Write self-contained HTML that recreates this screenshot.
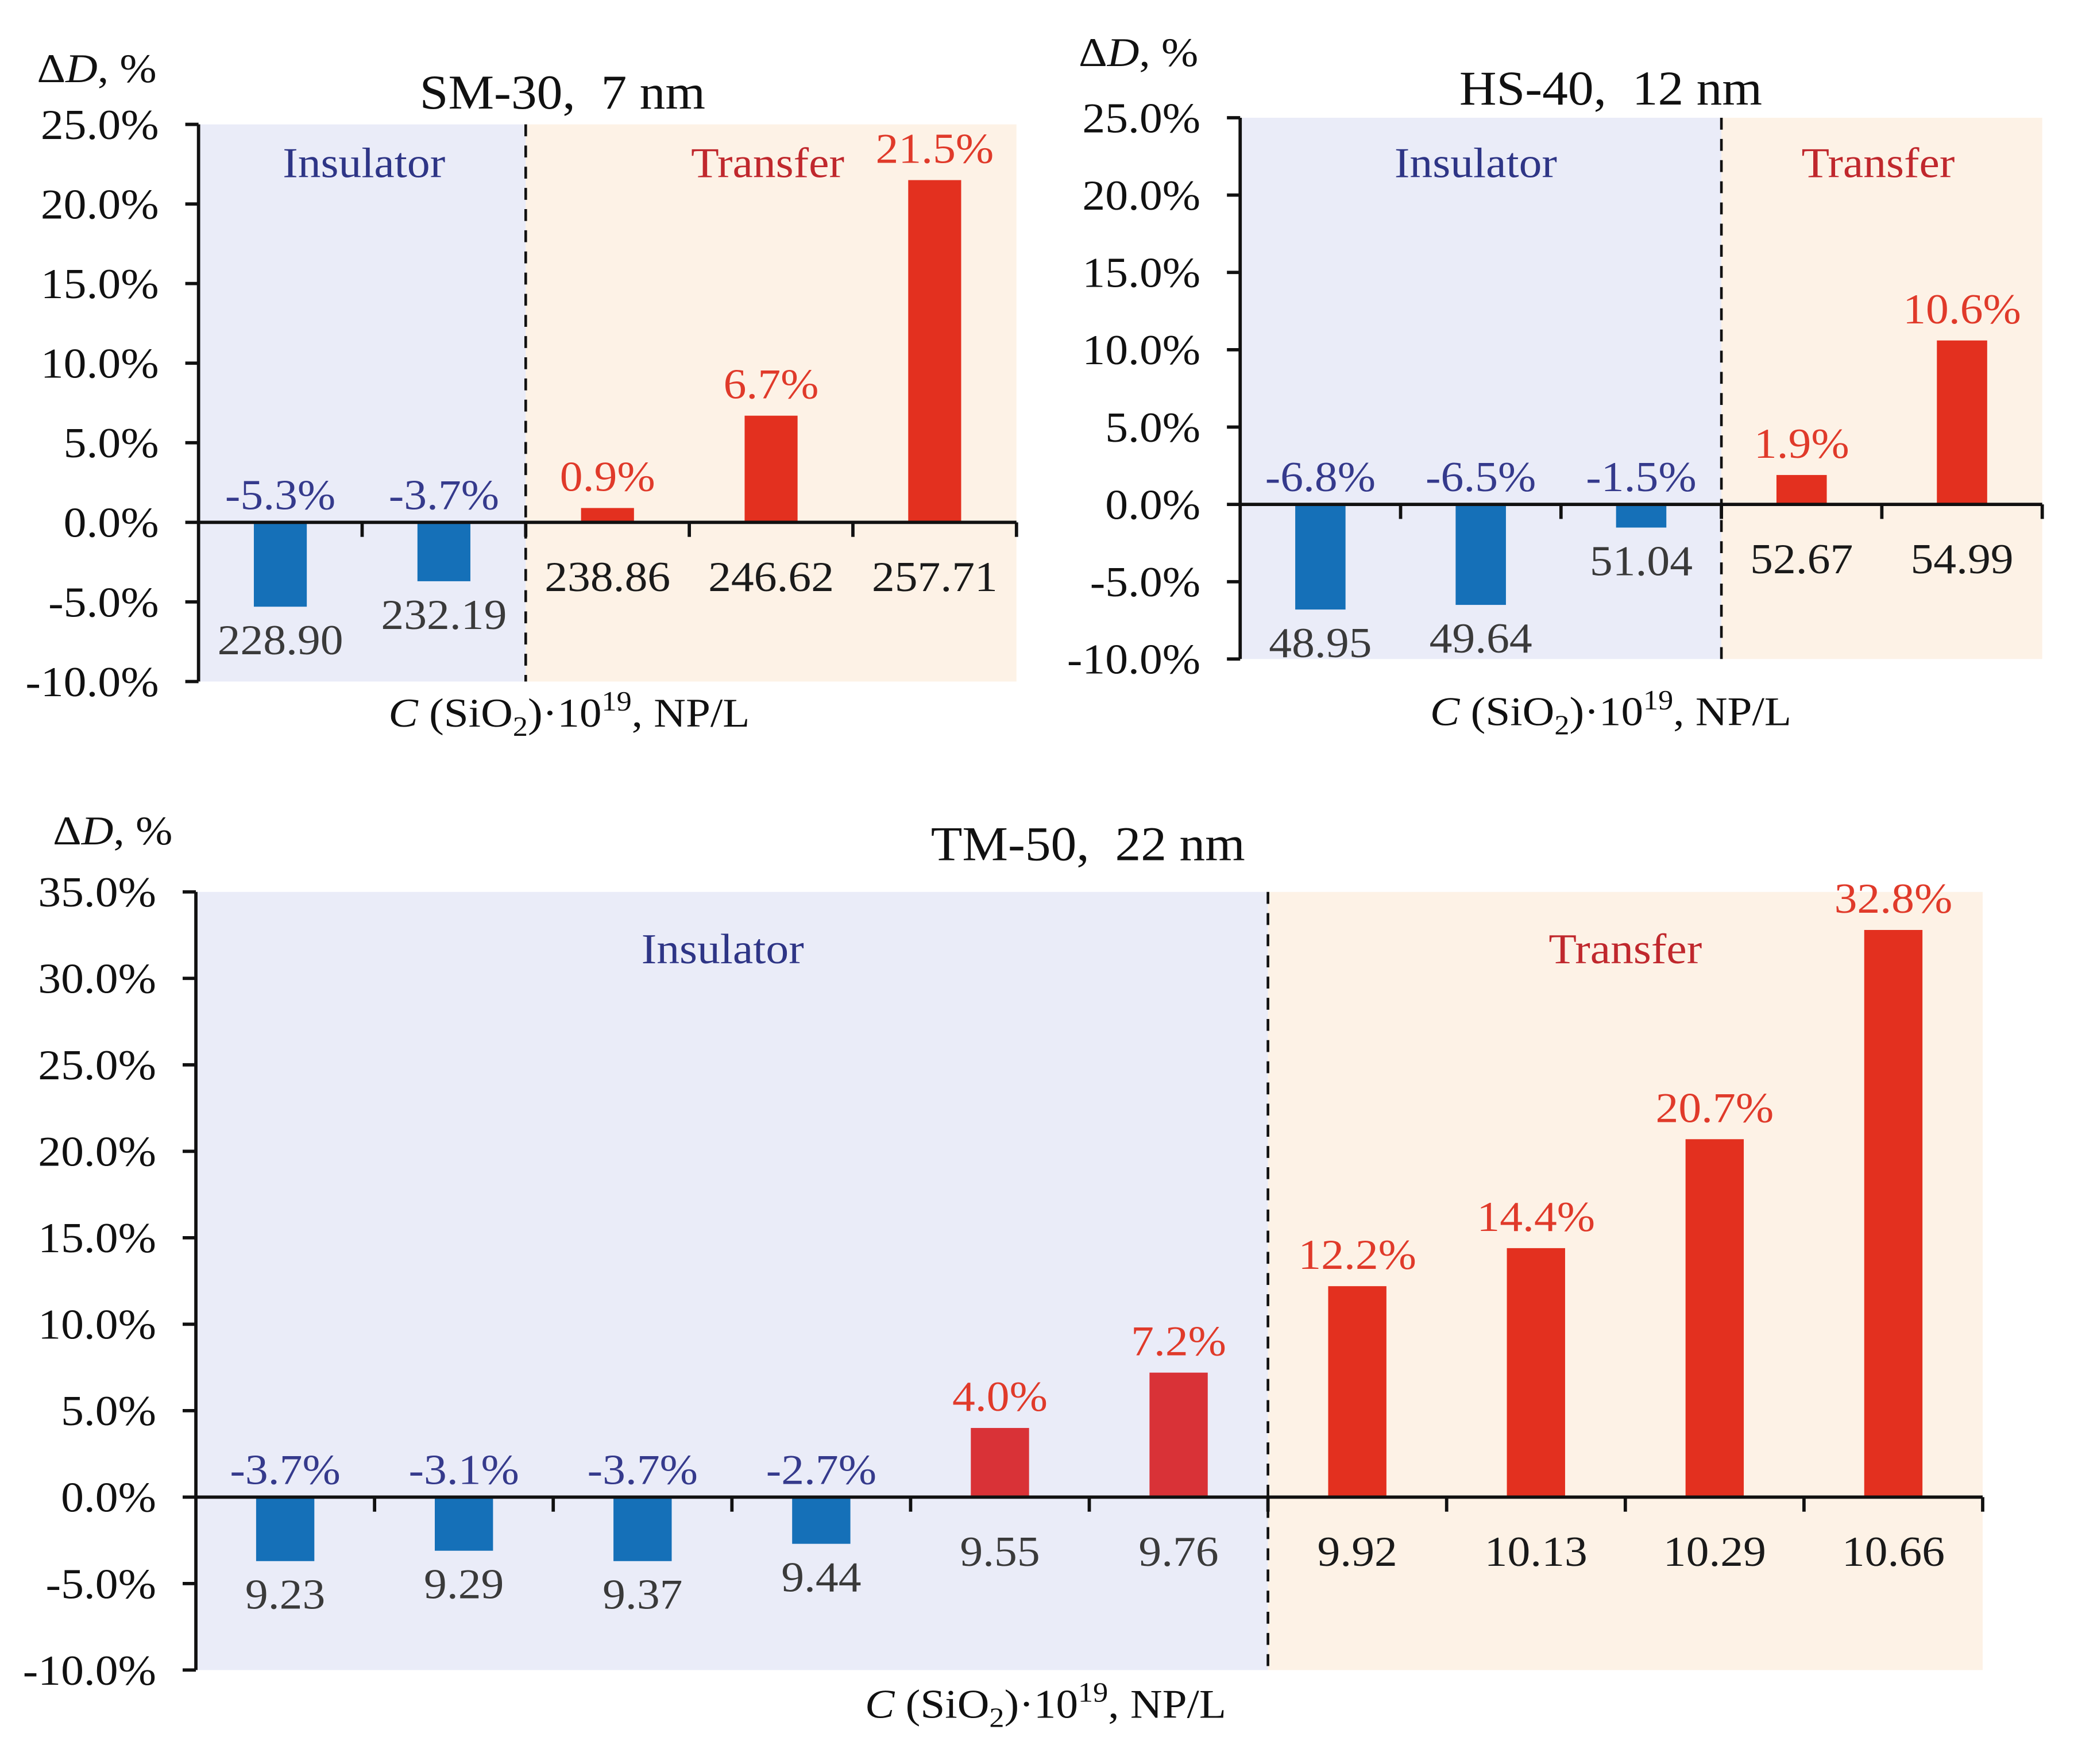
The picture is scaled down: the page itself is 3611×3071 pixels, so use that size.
<!DOCTYPE html>
<html><head><meta charset="utf-8">
<style>html,body{margin:0;padding:0;background:#fff}svg{display:block}</style>
</head><body>
<svg id="fig" xmlns="http://www.w3.org/2000/svg" width="3611" height="3071" viewBox="0 0 1567 1333" preserveAspectRatio="none" font-family="'Liberation Serif', serif"></svg>
<script>
// ---- Chart data ----
const smCategories = ["228.90","232.19","238.86","246.62","257.71"];
const smValues = [-5.3,-3.7,0.9,6.7,21.5];
const smTicks = [25,20,15,10,5,0,-5,-10];
const hsCategories = ["48.95","49.64","51.04","52.67","54.99"];
const hsValues = [-6.8,-6.5,-1.5,1.9,10.6];
const hsTicks = [25,20,15,10,5,0,-5,-10];
const tmCategories = ["9.23","9.29","9.37","9.44","9.55","9.76","9.92","10.13","10.29","10.66"];
const tmValues = [-3.7,-3.1,-3.7,-2.7,4.0,7.2,12.2,14.4,20.7,32.8];
const tmTicks = [35,30,25,20,15,10,5,0,-5,-10];

const NS="http://www.w3.org/2000/svg";
const svg=document.getElementById('fig');
function mk(tag,attrs,parent){const e=document.createElementNS(NS,tag);for(const k in attrs)e.setAttribute(k,attrs[k]);(parent||svg).appendChild(e);return e;}
function txt(parent,x,y,s,size,fill,anchor,sx){
  const t=mk('text',{transform:`translate(${x},${y}) scale(${sx||1.08},1)`,'font-size':size,fill:fill,'text-anchor':anchor||'middle'},parent);
  t.textContent=s;return t;
}

function drawChart(cfg,cats,vals,ticks){
  const g=mk('g',{});
  
  
  const tMax=ticks[0],tMin=ticks[ticks.length-1];
  const y=v=>cfg.top+(tMax-v)/(tMax-tMin)*(cfg.bottom-cfg.top);
  const bw=(cfg.right-cfg.left)/cats.length;
  const x=i=>cfg.left+bw*(i+0.5);
  const splitX=cfg.left+bw*cfg.split;
  const b1=mk('rect',{x:cfg.left,y:cfg.top,width:splitX-cfg.left,height:cfg.bottom-cfg.top,fill:'#eaecf8'},g);
  
  
  const b2=mk('rect',{x:splitX,y:cfg.top,width:cfg.right-splitX,height:cfg.bottom-cfg.top,fill:'#fdf2e6'},g);
  
  
  vals.forEach((v,i)=>{
    const y0=y(0),y1=y(v);
    let col=v<0?'#1570b8':'#e3301f';
    if(cfg.altRed && cfg.altRed.includes(i)) col='#d93237';
    const r=mk('rect',{x:x(i)-cfg.barW/2,y:Math.min(y0,y1),width:cfg.barW,height:Math.abs(y1-y0),fill:col},g);
    
    
    const vy=v<0?y0-10:y1-13;
    const vl=txt(g,x(i),vy,v.toFixed(1)+'%',cfg.fs,v<0?'#353a8c':'#e03a2a');
    
    
    const cy=Math.max(y0+52,(v<0?y1:y0)+36);
    const cl=txt(g,x(i),cy,cats[i],cfg.fs,i<cfg.split?'#3a3a3a':'#1a1a1a');
    
    
  });
  const d=mk('line',{x1:splitX,x2:splitX,y1:cfg.top,y2:cfg.bottom,stroke:'#111','stroke-width':2,'stroke-dasharray':'9,7'},g);
  
  
  const ya=mk('line',{x1:cfg.left,x2:cfg.left,y1:cfg.top,y2:cfg.bottom,stroke:'#111','stroke-width':2.5},g);
  
  
  ticks.forEach(t=>{
    mk('line',{x1:cfg.left-10,x2:cfg.left,y1:y(t),y2:y(t),stroke:'#111','stroke-width':2.5},g);
    const tl=txt(g,cfg.left-30,y(t)+11,t.toFixed(1)+'%',cfg.fs,'#111','end');
    
    
  });
  const xa=mk('line',{x1:cfg.left,x2:cfg.right,y1:y(0),y2:y(0),stroke:'#111','stroke-width':2.5},g);
  
  
  for(let i=1;i<=cats.length;i++) mk('line',{x1:cfg.left+bw*i,x2:cfg.left+bw*i,y1:y(0),y2:y(0)+11,stroke:'#111','stroke-width':2.5},g);
  const il=txt(g,cfg.insX,cfg.regY,'Insulator',cfg.fs,'#2e3586');
  
  
  const tl2=txt(g,cfg.trX,cfg.regY,'Transfer',cfg.fs,'#c0282d');
  
  
  const ti=txt(g,cfg.titleX,cfg.titleY,cfg.title,37,'#111','middle',1.05);
  
  
  ti.style.whiteSpace='pre';
  const yt=mk('text',{transform:`translate(${cfg.yTitleX},${cfg.yTitleY}) scale(1.08,1)`,'font-size':31,fill:'#111'},g);
  
  
  yt.innerHTML='Δ<tspan font-style="italic">D</tspan>, %';
  const xt=mk('text',{transform:`translate(${cfg.xTitleX},${cfg.xTitleY}) scale(1.08,1)`,'font-size':31,fill:'#111','text-anchor':'middle'},g);
  
  
  xt.innerHTML='<tspan font-style="italic">C</tspan> (SiO<tspan font-size="21" dy="7">2</tspan><tspan dy="-7">)·10</tspan><tspan font-size="21" dy="-12">19</tspan><tspan dy="12">, NP/L</tspan>';
}

drawChart({name:'chart-sm30',left:150,right:768,top:94,bottom:515,split:2,barW:40,fs:32,
  insX:275,trX:580,regY:134,title:'SM-30,  7 nm',titleX:425,titleY:82,yTitleX:28,yTitleY:62,xTitleX:430,xTitleY:549},
  smCategories,smValues,smTicks);
drawChart({name:'chart-hs40',left:937,right:1543,top:89,bottom:498,split:3,barW:38,fs:32,
  insX:1115,trX:1419,regY:134,title:'HS-40,  12 nm',titleX:1217,titleY:79,yTitleX:815,yTitleY:50,xTitleX:1217,xTitleY:548},
  hsCategories,hsValues,hsTicks);
drawChart({name:'chart-tm50',left:148,right:1498,top:674,bottom:1262,split:6,barW:44,fs:32,altRed:[4,5],
  insX:546,trX:1228,regY:728,title:'TM-50,  22 nm',titleX:822,titleY:650,yTitleX:40,yTitleY:638,xTitleX:790,xTitleY:1298},
  tmCategories,tmValues,tmTicks);
</script>
</body></html>
